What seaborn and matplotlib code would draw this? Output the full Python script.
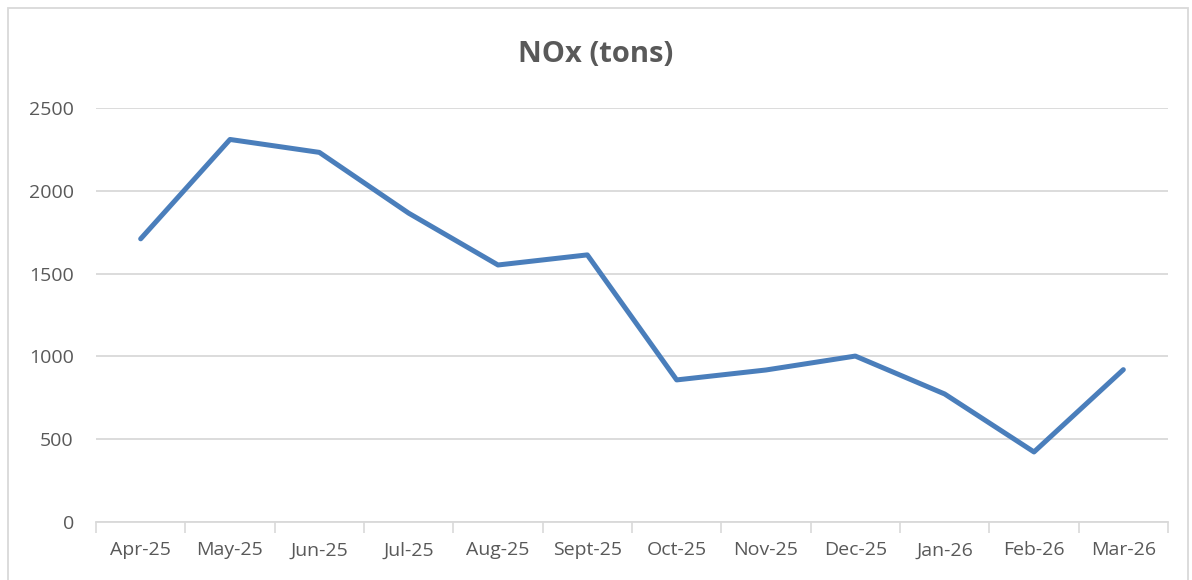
import matplotlib
matplotlib.use("Agg")
import matplotlib.pyplot as plt
import seaborn as sns
import pandas as pd
from matplotlib.patches import Rectangle
from matplotlib.ticker import FixedLocator, NullFormatter

months = ["Apr-25", "May-25", "Jun-25", "Jul-25", "Aug-25", "Sept-25",
          "Oct-25", "Nov-25", "Dec-25", "Jan-26", "Feb-26", "Mar-26"]
nox = [1710, 2310, 2232, 1865, 1552, 1613, 858, 918, 1002, 773, 423, 920]
yticks = [0, 500, 1000, 1500, 2000, 2500]

sns.set_theme(style="white")
plt.rcParams['font.family'] = ['Open Sans', 'DejaVu Sans']

df = pd.DataFrame({"month": months, "nox": nox, "pos": range(len(months))})

fig = plt.figure(figsize=(11.92, 5.8), dpi=100)
ax = fig.add_axes([96/1192, 58/580, (1168-96)/1192, (522-108)/580])

text_c = "#595959"
grid_c = "#D9D9D9"

sns.lineplot(data=df, x="pos", y="nox", ax=ax, color="#4A7EBB", linewidth=3.6,
             solid_capstyle="round", solid_joinstyle="round")

ax.set_xlim(-0.5, len(months) - 0.5)
ax.set_ylim(0, 2500)
ax.set_yticks(yticks)
ax.set_yticklabels([str(v) for v in yticks])
ax.set_xticks(range(len(months)))
ax.set_xticklabels(months)
ax.xaxis.set_minor_locator(FixedLocator([i - 0.5 for i in range(len(months) + 1)]))
ax.xaxis.set_minor_formatter(NullFormatter())
ax.tick_params(axis="x", which="major", length=0, pad=14, labelsize=14, labelcolor=text_c)
ax.tick_params(axis="x", which="minor", length=8, width=1.2, color=grid_c, direction="out", bottom=True)
ax.tick_params(axis="y", length=0, pad=16, labelsize=14, labelcolor=text_c)

ax.grid(axis="y", color=grid_c, linewidth=1.3)
ax.set_axisbelow(True)
for s in ["top", "right", "left"]:
    ax.spines[s].set_visible(False)
ax.spines["bottom"].set_color(grid_c)
ax.spines["bottom"].set_linewidth(1.3)
ax.set_xlabel("")
ax.set_ylabel("")

fig.text(0.5, 1 - 54/580, "NOx (tons)", ha="center", va="center",
         fontsize=21, fontweight="bold", color=text_c)

fig.patches.append(Rectangle((8/1192, -0.02), (1188-8)/1192, 1 - 8/580 + 0.02,
                             transform=fig.transFigure, fill=False,
                             edgecolor="#D9D9D9", linewidth=1.3))

fig.savefig("out.png", dpi=100)
